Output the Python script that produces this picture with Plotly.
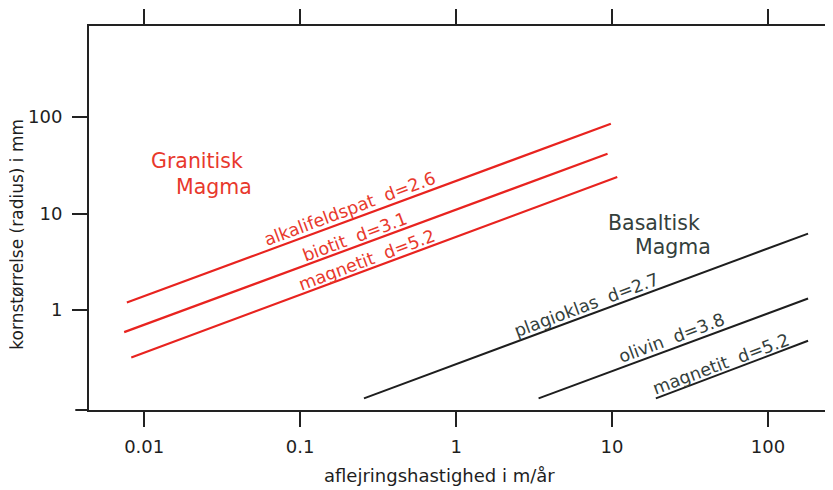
import math
import plotly.graph_objects as go

# ---- data ----
x_ticks = [0.01, 0.1, 1, 10, 100]
x_ticktext = ["0.01", "0.1", "1", "10", "100"]
y_ticks = [1, 10, 100]
y_ticktext = ["1", "10", "100"]

# Granitic magma lines: (start x, end x), (start y, end y)
gran_names = ["alkalifeldspat\u00a0 d=2.6", "biotit\u00a0 d=3.1", "magnetit\u00a0 d=5.2"]
gran_x = [[0.00774, 9.83], [0.00744, 9.36], [0.00826, 10.8]]
gran_y = [[1.20, 85.3], [0.592, 41.7], [0.324, 23.9]]

# Basaltic magma lines
bas_names = ["plagioklas\u00a0 d=2.7", "olivin\u00a0 d=3.8", "magnetit\u00a0 d=5.2"]
bas_x = [[0.2566, 180.7], [3.38, 180.7], [19.1, 180.7]]
bas_y = [[0.122, 6.21], [0.122, 1.32], [0.122, 0.482]]

# label centre x-positions along each line (data units)
gran_label_x = [0.219, 0.2355, 0.281]
bas_label_x = [7.24, 25.4, 52.3]

RED = "#e8231f"
RED_TXT = "#e8382c"
DARK = "#1e1e1e"
DARK_TXT = "#34403c"
FONT = "DejaVu Sans"

fig = go.Figure()

for name, xs, ys in zip(gran_names, gran_x, gran_y):
    fig.add_trace(go.Scatter(x=xs, y=ys, mode="lines", name=name,
                             line=dict(color=RED, width=2.2), showlegend=False,
                             hoverinfo="skip"))
for name, xs, ys in zip(bas_names, bas_x, bas_y):
    fig.add_trace(go.Scatter(x=xs, y=ys, mode="lines", name=name,
                             line=dict(color=DARK, width=2), showlegend=False,
                             hoverinfo="skip"))


def on_line(xs, ys, xq):
    lx0, lx1 = math.log10(xs[0]), math.log10(xs[1])
    ly0, ly1 = math.log10(ys[0]), math.log10(ys[1])
    t = (math.log10(xq) - lx0) / (lx1 - lx0)
    return 10 ** (ly0 + t * (ly1 - ly0))


ANG = 20.4
offsets_g = [11, 9, 9]
offsets_b = [10, 10, 9]
annotations = []


def add_label(text, xs, ys, xq, d, color):
    yq = on_line(xs, ys, xq)
    annotations.append(dict(
        x=math.log10(xq), y=math.log10(yq), xref="x", yref="y",
        text=text, showarrow=False, textangle=-ANG,
        xanchor="center", yanchor="middle",
        xshift=-d * math.sin(math.radians(ANG)),
        yshift=d * math.cos(math.radians(ANG)),
        font=dict(family=FONT, size=17.5, color=color)))


for name, xs, ys, xq, d in zip(gran_names, gran_x, gran_y, gran_label_x, offsets_g):
    add_label(name, xs, ys, xq, d, RED_TXT)
for name, xs, ys, xq, d in zip(bas_names, bas_x, bas_y, bas_label_x, offsets_b):
    add_label(name, xs, ys, xq, d, DARK_TXT)

# group titles
for txt, px, py, col in [("Granitisk", 0.0808, 0.6476, RED_TXT),
                         ("Magma", 0.1147, 0.5808, RED_TXT),
                         ("Basaltisk", 0.7011, 0.4863, DARK_TXT),
                         ("Magma", 0.7381, 0.4247, DARK_TXT)]:
    annotations.append(dict(x=px, y=py, xref="paper", yref="paper", text=txt,
                            showarrow=False, xanchor="left", yanchor="middle",
                            font=dict(family=FONT, size=20.5, color=col)))

# axis titles
annotations.append(dict(x=0.4757, y=-0.1716, xref="paper", yref="paper",
                        text="aflejringshastighed i m/år", showarrow=False,
                        xanchor="center", yanchor="middle",
                        font=dict(family=FONT, size=18, color="#1e1e1e")))
annotations.append(dict(x=-0.0985, y=0.4577, xref="paper", yref="paper",
                        text="kornstørrelse (radius) i mm", showarrow=False,
                        textangle=-90, xanchor="center", yanchor="middle",
                        height=15, borderpad=0,
                        font=dict(family=FONT, size=17, color="#1e1e1e")))

axis_common = dict(type="log", showgrid=False, zeroline=False, showline=True,
                   linecolor="#222", linewidth=2, mirror="ticks",
                   ticks="outside", ticklen=15, tickwidth=2, tickcolor="#222",
                   automargin=False,
                   tickfont=dict(family=FONT, size=18, color="#1e1e1e"))

# the page body adds an 8px margin, so the figure is 8px smaller each way
fig.update_layout(
    width=825, height=482,
    margin=dict(l=80.7, r=6.5, t=17.5, b=80, autoexpand=False),
    paper_bgcolor="white", plot_bgcolor="white",
    xaxis=dict(range=[-2.354, 2.372], tickvals=x_ticks, ticktext=x_ticktext,
               ticklabelstandoff=4, **axis_common),
    yaxis=dict(range=[-1.034, 2.943], tickvals=y_ticks, ticktext=y_ticktext,
               ticklabelstandoff=6, **axis_common),
    annotations=annotations,
    shapes=[dict(type="line", xref="paper", yref="paper", x0=-0.0186, x1=0,
                 y0=0, y1=0, line=dict(color="#222", width=2))],
)

fig.write_html("out.html")
